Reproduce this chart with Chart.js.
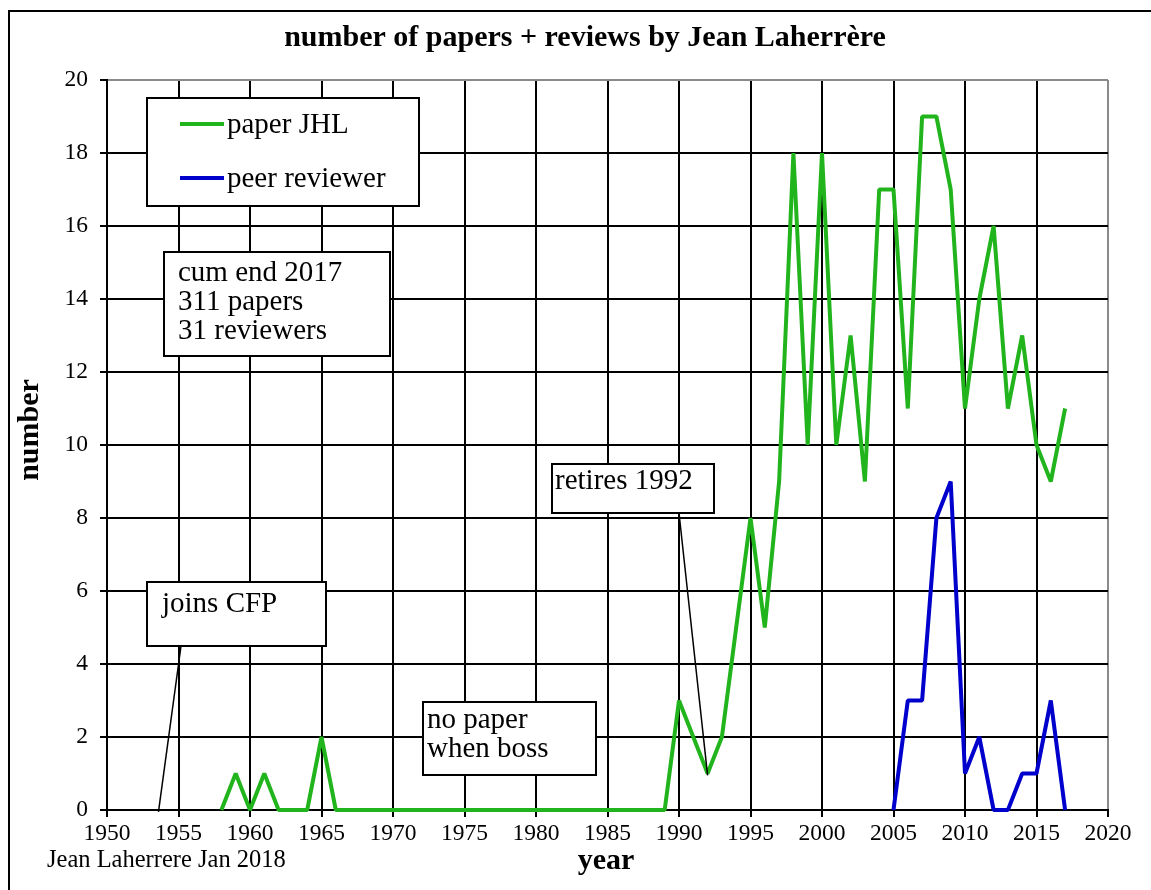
<!DOCTYPE html>
<html>
<head>
<meta charset="utf-8">
<script src="https://cdn.jsdelivr.net/npm/chart.js@4.4.1/dist/chart.umd.min.js"></script>
<style>
  html, body { margin: 0; padding: 0; background: #fff; }
  canvas { display: block; }
</style>
</head>
<body>
<canvas id="chart" width="1151" height="890"></canvas>
<script>
// Data
const paperYears = [
  1958, 1959, 1960, 1961, 1962, 1963, 1964, 1965, 1966, 1967,
  1968, 1969, 1970, 1971, 1972, 1973, 1974, 1975, 1976, 1977,
  1978, 1979, 1980, 1981, 1982, 1983, 1984, 1985, 1986, 1987,
  1988, 1989, 1990, 1991, 1992, 1993, 1994, 1995, 1996, 1997,
  1998, 1999, 2000, 2001, 2002, 2003, 2004, 2005, 2006, 2007,
  2008, 2009, 2010, 2011, 2012, 2013, 2014, 2015, 2016, 2017
];
const paperCounts = [
  0, 1, 0, 1, 0, 0, 0, 2, 0, 0,
  0, 0, 0, 0, 0, 0, 0, 0, 0, 0,
  0, 0, 0, 0, 0, 0, 0, 0, 0, 0,
  0, 0, 3, 2, 1, 2, 5, 8, 5, 9,
  18, 10, 18, 10, 13, 9, 17, 17, 11, 19,
  19, 17, 11, 14, 16, 11, 13, 10, 9, 11
];
const reviewYears = [2005, 2006, 2007, 2008, 2009, 2010, 2011, 2012, 2013, 2014, 2015, 2016, 2017];
const reviewCounts = [0, 3, 3, 8, 9, 1, 2, 0, 0, 1, 1, 3, 0];

const seriesNames = ['paper JHL', 'peer reviewer'];
const seriesColors = ['#22b41c', '#0000cc'];

const SERIF = '"Liberation Serif", "Times New Roman", serif';

function toPoints(xs, ys) {
  return xs.map((x, i) => ({ x, y: ys[i] }));
}

function drawBox(ctx, l, t, r, b) {
  ctx.fillStyle = '#fff';
  ctx.fillRect(l, t, r - l, b - t);
  ctx.strokeStyle = '#000';
  ctx.lineWidth = 2;
  ctx.strokeRect(l, t, r - l, b - t);
}

function drawLine(ctx, x1, y1, x2, y2, w) {
  ctx.beginPath();
  ctx.moveTo(x1, y1);
  ctx.lineTo(x2, y2);
  ctx.lineWidth = w;
  ctx.stroke();
}

// Text boxes, titles, legend and frame
const decorations = {
  id: 'decorations',
  afterDraw(chart) {
    const { ctx, scales: { x, y } } = chart;
    ctx.save();
    ctx.strokeStyle = '#000';
    ctx.fillStyle = '#000';

    // outer frame
    ctx.lineWidth = 2;
    ctx.beginPath();
    ctx.moveTo(9, 890);
    ctx.lineTo(9, 11);
    ctx.lineTo(1151, 11);
    ctx.stroke();

    // title
    ctx.font = 'bold 30px ' + SERIF;
    ctx.textAlign = 'center';
    ctx.textBaseline = 'alphabetic';
    ctx.fillText('number of papers + reviews by Jean Laherrère', 585, 46);

    // axis titles
    ctx.fillText('year', 606, 869);
    ctx.save();
    ctx.translate(38, 430);
    ctx.rotate(-Math.PI / 2);
    ctx.fillText('number', 0, 0);
    ctx.restore();

    // footnote
    ctx.textAlign = 'left';
    ctx.font = '24.5px ' + SERIF;
    ctx.fillText('Jean Laherrere Jan 2018', 47, 867);

    ctx.font = '29px ' + SERIF;

    // legend
    drawBox(ctx, 147, 98, 419, 206);
    [124, 178].forEach((ly, i) => {
      ctx.strokeStyle = seriesColors[i];
      drawLine(ctx, 180, ly, 224, ly, 4);
      ctx.fillStyle = '#000';
      ctx.fillText(seriesNames[i], 227, ly + 9);
    });
    ctx.strokeStyle = '#000';

    // cumulative note
    drawBox(ctx, 164, 252, 390, 356);
    ctx.fillStyle = '#000';
    ctx.fillText('cum end 2017', 178, 281);
    ctx.fillText('311 papers', 178, 310);
    ctx.fillText('31 reviewers', 178, 339);

    // joins CFP
    drawLine(ctx, 181, 646, x.getPixelForValue(1953.6), y.getPixelForValue(-0.05), 1.5);
    drawBox(ctx, 147, 582, 326, 646);
    ctx.fillStyle = '#000';
    ctx.fillText('joins CFP', 162, 612);

    // retires 1992
    drawLine(ctx, 679, 513, x.getPixelForValue(1992), y.getPixelForValue(0.95), 1.5);
    drawBox(ctx, 552, 464, 714, 513);
    ctx.fillStyle = '#000';
    ctx.fillText('retires 1992', 555, 489);

    // no paper when boss
    drawBox(ctx, 423, 702, 596, 775);
    ctx.fillStyle = '#000';
    ctx.fillText('no paper', 427, 728);
    ctx.fillText('when boss', 427, 757);

    ctx.restore();
  }
};

new Chart(document.getElementById('chart'), {
  type: 'line',
  data: {
    datasets: [
      {
        label: seriesNames[0],
        data: toPoints(paperYears, paperCounts),
        borderColor: seriesColors[0],
        borderWidth: 4,
        borderJoinStyle: 'bevel',
        pointRadius: 0,
        tension: 0,
        clip: false
      },
      {
        label: seriesNames[1],
        data: toPoints(reviewYears, reviewCounts),
        borderColor: seriesColors[1],
        borderWidth: 4,
        borderJoinStyle: 'bevel',
        pointRadius: 0,
        tension: 0,
        clip: false
      }
    ]
  },
  options: {
    responsive: false,
    animation: false,
    devicePixelRatio: 1,
    layout: { padding: { top: 80, right: 43, left: 0, bottom: 0 } },
    plugins: {
      legend: { display: false },
      title: { display: false },
      tooltip: { enabled: false }
    },
    scales: {
      x: {
        type: 'linear',
        min: 1950,
        max: 2020,
        ticks: {
          stepSize: 5,
          color: '#000',
          font: { family: SERIF, size: 23.5 },
          padding: 3,
          maxRotation: 0,
          autoSkip: false,
          callback: v => String(v)
        },
        grid: {
          color: c => (c.tick && c.tick.value === 2020) ? '#8a8a8a' : '#000',
          lineWidth: 2,
          tickLength: 7,
          tickColor: '#000',
          tickWidth: 2
        },
        border: { color: '#000', width: 2 },
        afterFit: s => { s.height = 80; }
      },
      y: {
        min: 0,
        max: 20,
        ticks: {
          stepSize: 2,
          color: '#000',
          font: { family: SERIF, size: 23.5 },
          padding: 12
        },
        grid: {
          color: c => (c.tick && c.tick.value === 20) ? '#8a8a8a' : '#000',
          lineWidth: 2,
          tickLength: 7,
          tickColor: '#000',
          tickWidth: 2
        },
        border: { color: '#000', width: 2 },
        afterFit: s => { s.width = 107; }
      }
    }
  },
  plugins: [decorations]
});
</script>
</body>
</html>
